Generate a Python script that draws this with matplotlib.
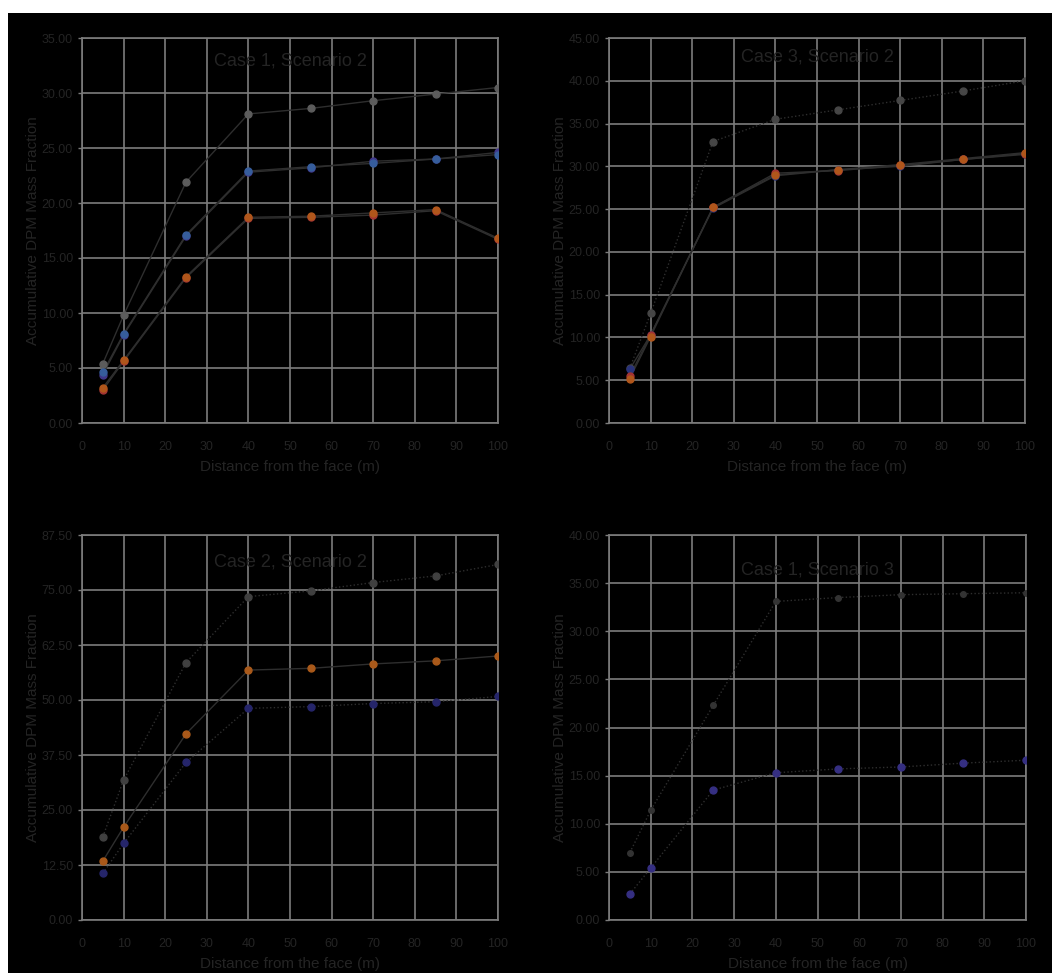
import matplotlib
matplotlib.use("Agg")
import matplotlib.pyplot as plt
from matplotlib.patches import Rectangle

# Данные
distance = [5, 10, 25, 40, 55, 70, 85, 100]

# Case 1, Scenario 2
c1s2_gray = [5.4, 9.8, 21.9, 28.1, 28.6, 29.3, 29.9, 30.5]
c1s2_purple = [4.4, 8.0, 17.0, 22.8, 23.2, 23.8, 24.0, 24.6]
c1s2_blue = [4.6, 8.1, 17.1, 22.9, 23.3, 23.6, 24.0, 24.4]
c1s2_red = [3.0, 5.6, 13.2, 18.6, 18.7, 18.9, 19.3, 16.7]
c1s2_orange = [3.2, 5.7, 13.3, 18.7, 18.8, 19.1, 19.4, 16.8]

# Case 3, Scenario 2
c3s2_gray = [6.4, 12.8, 32.9, 35.5, 36.6, 37.7, 38.8, 40.0]
c3s2_blue = [6.3, 10.3, 25.1, 28.9, 29.6, 30.0, 30.8, 31.5]
c3s2_red = [5.5, 10.3, 25.2, 29.2, 29.5, 30.1, 30.8, 31.4]
c3s2_orange = [5.2, 10.1, 25.2, 29.0, 29.6, 30.2, 30.9, 31.6]

# Case 2, Scenario 2
c2s2_gray = [18.9, 31.8, 58.5, 73.5, 74.8, 76.7, 78.2, 80.8]
c2s2_orange = [13.4, 21.1, 42.3, 56.8, 57.2, 58.2, 58.9, 60.0]
c2s2_navy = [10.6, 17.4, 35.8, 48.1, 48.5, 49.2, 49.6, 50.8]

# Case 1, Scenario 3
c1s3_gray = [7.0, 11.4, 22.3, 33.1, 33.5, 33.8, 33.9, 34.0]
c1s3_blue = [2.7, 5.4, 13.5, 15.3, 15.7, 15.9, 16.3, 16.6]

GRID = '#7c7c7c'
TEXT = '#242424'
LINE = '#2e2e2e'

plt.rcParams['font.family'] = ['Liberation Sans', 'DejaVu Sans']

W, H = 1052, 973
fig = plt.figure(figsize=(W / 100, H / 100), dpi=100, facecolor='white')
# черный фон с белой полоской сверху и слева
fig.patches.append(Rectangle((8 / W, 0), 1, (H - 13) / H, transform=fig.transFigure,
                             facecolor='black', edgecolor='none', zorder=-10))


def make_axes(left_px, top_px, width_px, height_px):
    ax = fig.add_axes([left_px / W, (H - top_px - height_px) / H, width_px / W, height_px / H])
    ax.set_facecolor('black')
    for s in ax.spines.values():
        s.set_color(GRID)
        s.set_linewidth(1.2)
    ax.grid(True, color=GRID, linewidth=1.2)
    ax.set_axisbelow(True)
    ax.tick_params(axis='y', colors=GRID, labelcolor=TEXT, labelsize=9, length=3, width=1)
    ax.tick_params(axis='x', colors=GRID, labelcolor=TEXT, labelsize=9, length=0, pad=13)
    return ax


def setup(ax, title, ymax, ystep, title_y):
    ax.set_xlim(0, 100)
    ax.set_xticks(range(0, 101, 10))
    ax.set_ylim(0, ymax)
    n = int(round(ymax / ystep))
    ax.set_yticks([i * ystep for i in range(n + 1)])
    ax.set_yticklabels([f'{i * ystep:.2f}' for i in range(n + 1)])
    ax.text(0.5, title_y, title, transform=ax.transAxes, ha='center', va='center',
            fontsize=13, color=TEXT)
    ax.set_xlabel('Distance from the face (m)', fontsize=11, color=TEXT)
    ax.set_ylabel('Accumulative DPM Mass Fraction', fontsize=11, color=TEXT)
    ax.yaxis.set_label_coords(-0.10, 0.5)
    ax.xaxis.set_label_coords(0.5, -0.095)


def series(ax, y, color, ls='-', ms=5.0):
    ax.plot(distance, y, color=LINE, linewidth=1.0, linestyle=ls, zorder=2)
    ax.plot(distance, y, linestyle='none', marker='o', markersize=ms,
            markerfacecolor=color, markeredgecolor=color, zorder=3)


# Case 1, Scenario 2
ax1 = make_axes(82, 38, 416, 385)
setup(ax1, 'Case 1, Scenario 2', 35, 5, 0.94)
series(ax1, c1s2_gray, '#5c5c5c')
series(ax1, c1s2_purple, '#40368a')
series(ax1, c1s2_blue, '#365d9c')
series(ax1, c1s2_red, '#a33434')
series(ax1, c1s2_orange, '#b0561b')

# Case 3, Scenario 2
ax2 = make_axes(609, 38, 416, 385)
setup(ax2, 'Case 3, Scenario 2', 45, 5, 0.95)
series(ax2, c3s2_gray, '#464646', ls=':')
series(ax2, c3s2_blue, '#28327a')
series(ax2, c3s2_red, '#a33434')
series(ax2, c3s2_orange, '#b0561b')

# Case 2, Scenario 2
ax3 = make_axes(82, 535, 416, 385)
setup(ax3, 'Case 2, Scenario 2', 87.5, 12.5, 0.93)
series(ax3, c2s2_gray, '#404040', ls=':')
series(ax3, c2s2_navy, '#25256a', ls=':')
series(ax3, c2s2_orange, '#a9591a')

# Case 1, Scenario 3
ax4 = make_axes(609, 535, 417, 385)
setup(ax4, 'Case 1, Scenario 3', 40, 5, 0.91)
series(ax4, c1s3_gray, '#333333', ls=':', ms=4.0)
series(ax4, c1s3_blue, '#352f82', ls=':')

fig.savefig('out.png', dpi=100, facecolor=fig.get_facecolor())
